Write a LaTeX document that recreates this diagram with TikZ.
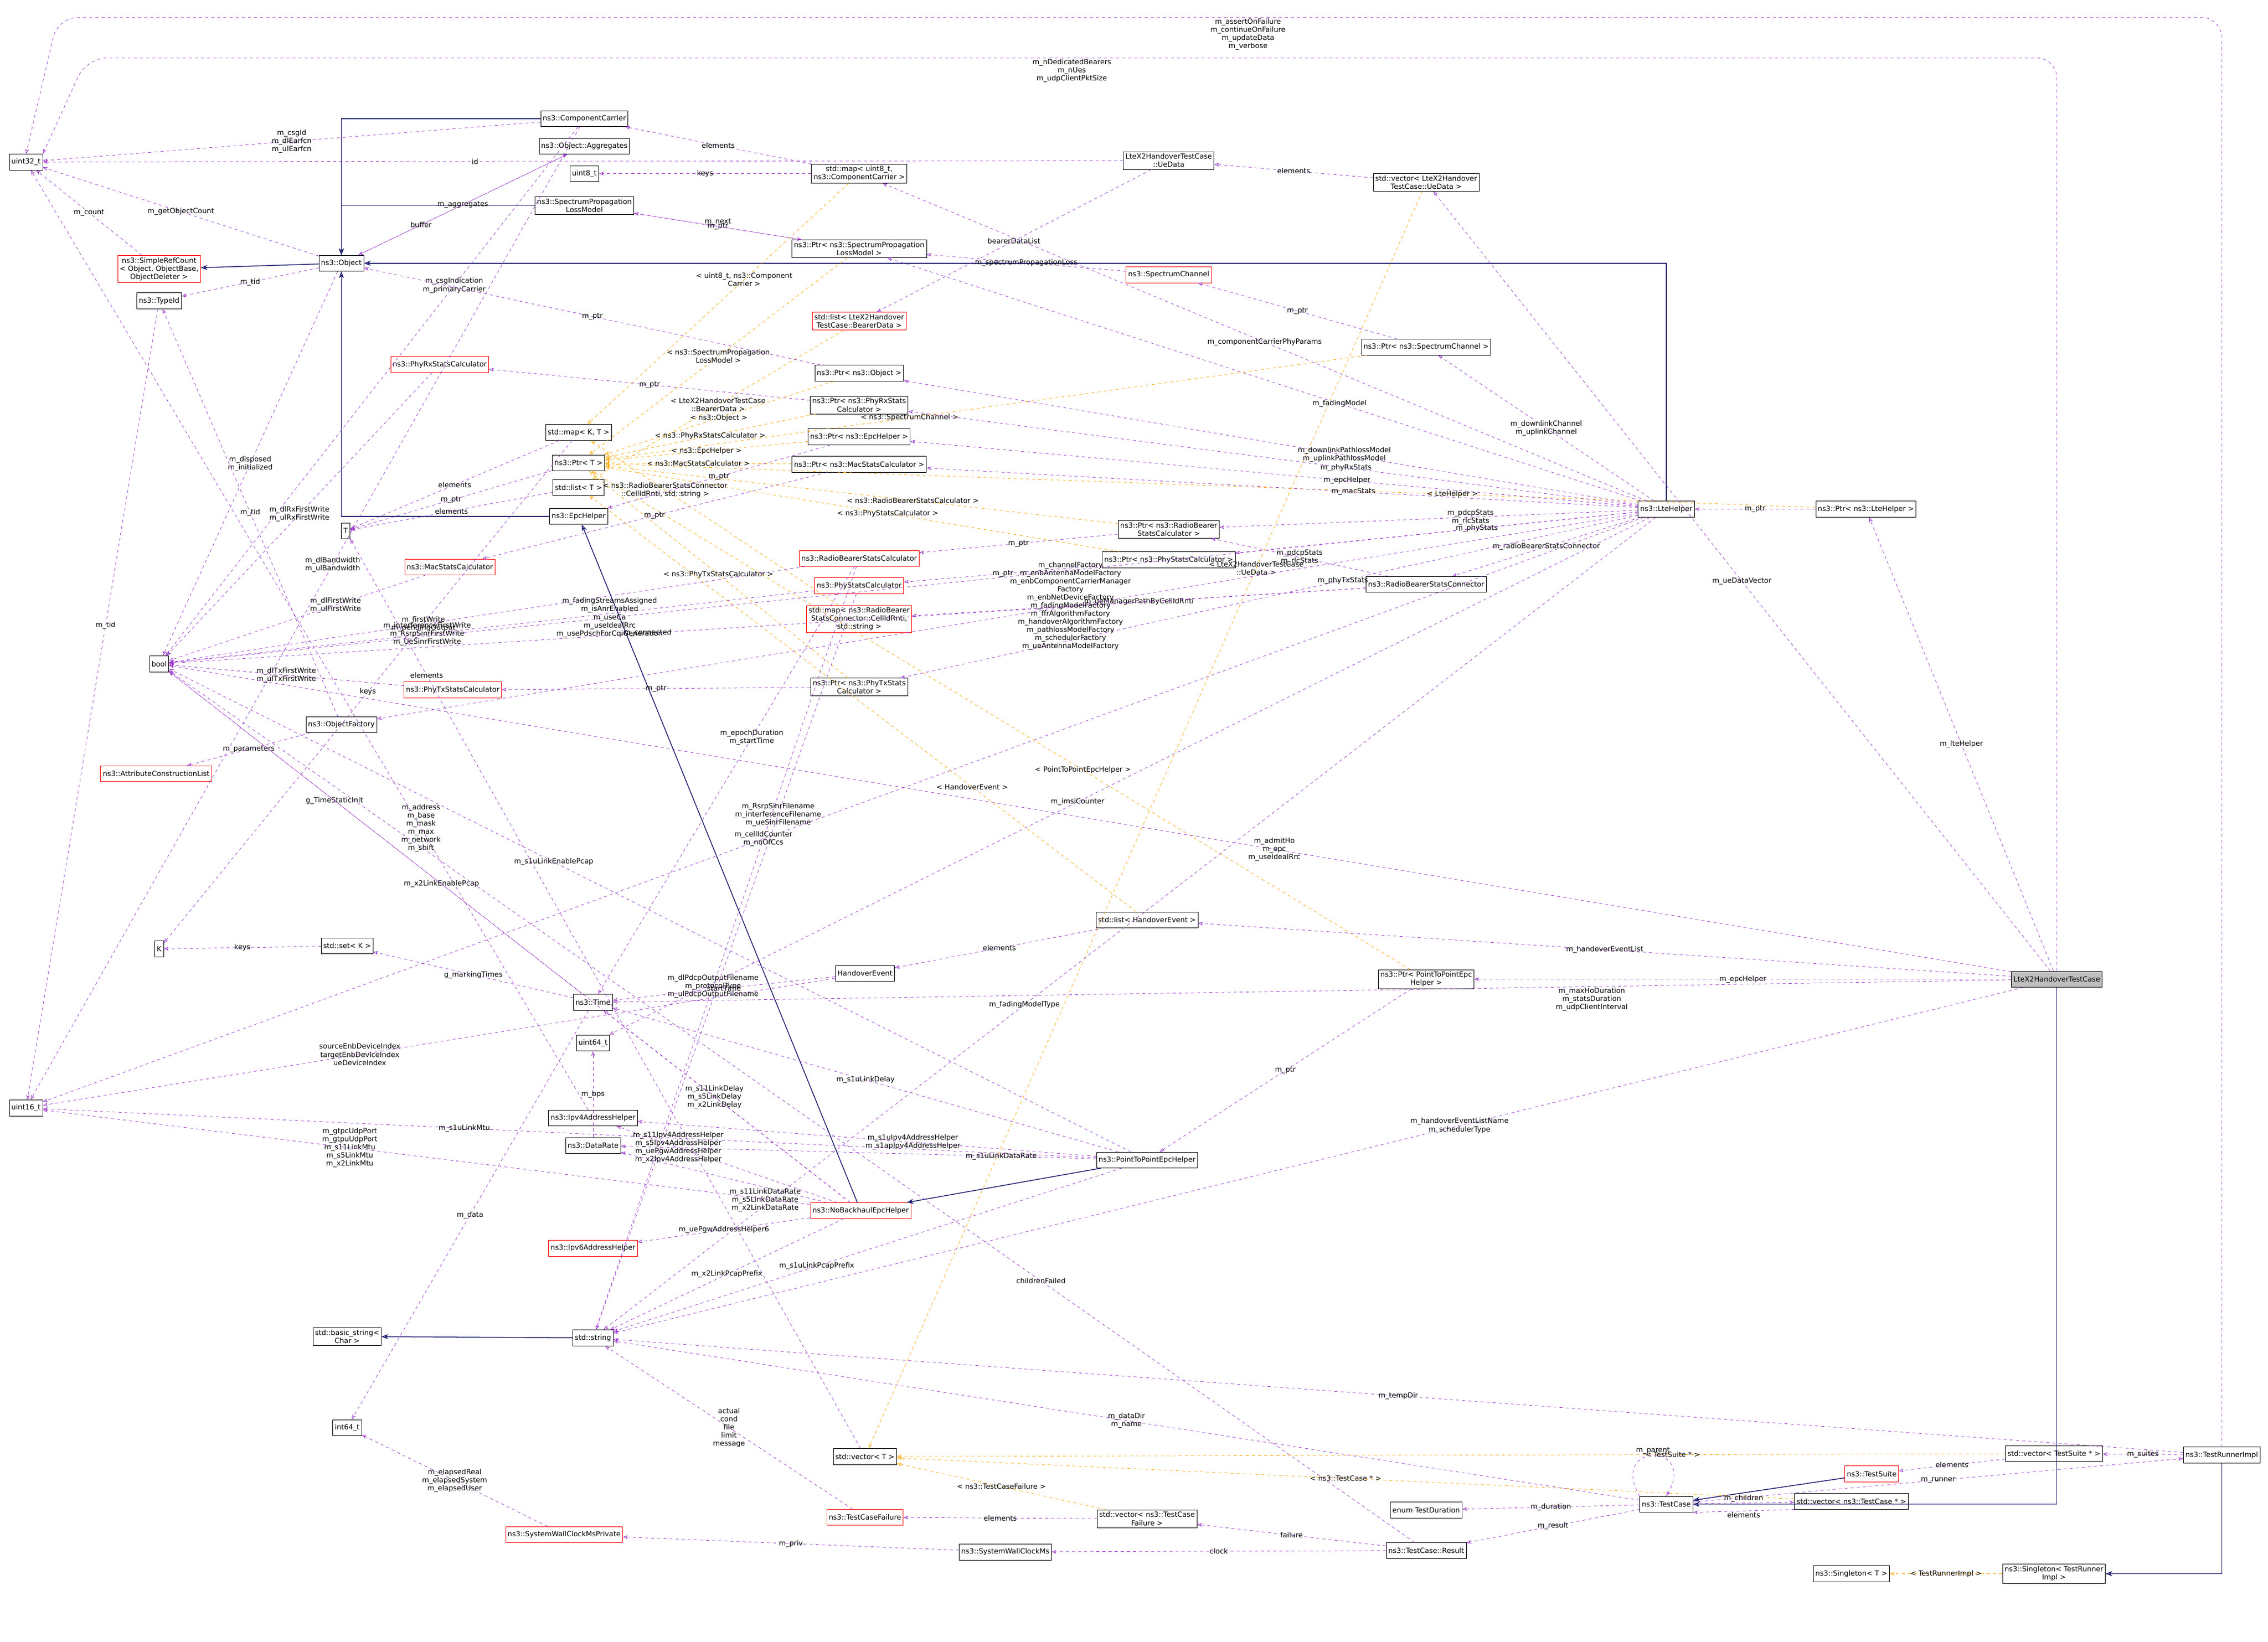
\documentclass[tikz,border=0pt]{standalone}
\usepackage{fontspec}
\setmainfont{DejaVu Sans}
\usetikzlibrary{arrows.meta, positioning}
\definecolor{usecol}{HTML}{9A32CD}
\definecolor{inhcol}{HTML}{191970}
\definecolor{tplcol}{HTML}{FFA500}
\newcommand{\boxfont}{\fontsize{7}{8}\selectfont}

\begin{document}
\begin{tikzpicture}[x=0.05cm,y=-0.05cm,
    box/.style={draw, fill=white, font=\boxfont, align=center, inner sep=2pt, minimum height=0.55cm},
    redbox/.style={box, draw=red},
    rootbox/.style={box, fill=black!25},
    use/.style={draw=usecol, dashed, -{Stealth[open]}},
    inh/.style={draw=inhcol, thick, -{Stealth[open]}},
    tpl/.style={draw=tplcol, dashed, -{Stealth[open]}},
    lbl/.style={font=\boxfont, align=center, fill=none, inner sep=1pt}]
    \useasboundingbox (0,0) rectangle (1568,1135);

    % left column
    \node[box] (u32) at (18,112) {uint32\_t};
    \node[redbox] (refcnt) at (110,186) {ns3::SimpleRefCount\\< Object, ObjectBase,\\ObjectDeleter >};
    \node[box] (tid) at (110,208) {ns3::TypeId};
    \node[box] (bool) at (110,459) {bool};
    \node[redbox] (attrl) at (108,535) {ns3::AttributeConstructionList};
    \node[box] (kk) at (110,656) {K};
    \node[box] (u16) at (18,766) {uint16\_t};

    \node[box] (obj) at (236,182) {ns3::Object};
    \node[redbox] (phyrx) at (304,252) {ns3::PhyRxStatsCalculator};
    \node[box] (tt) at (239,367) {T};
    \node[redbox] (macst) at (311,392) {ns3::MacStatsCalculator};
    \node[redbox] (phytx) at (313,477) {ns3::PhyTxStatsCalculator};
    \node[box] (objfac) at (236,501) {ns3::ObjectFactory};
    \node[box] (setk) at (240,654) {std::set< K >};
    \node[box] (bstr) at (240,924) {std::basic\_string<\\Char >};
    \node[box] (i64) at (240,987) {int64\_t};

    \node[box] (cc) at (404,82) {ns3::ComponentCarrier};
    \node[box] (aggr) at (404,101) {ns3::Object::Aggregates};
    \node[box] (u8) at (404,120) {uint8\_t};
    \node[box] (splm) at (404,142) {ns3::SpectrumPropagation\\LossModel};
    \node[box] (mapkt) at (400,299) {std::map< K, T >};
    \node[box] (ptrt) at (400,320) {ns3::Ptr< T >};
    \node[box] (listt) at (400,337) {std::list< T >};
    \node[box] (epch) at (400,357) {ns3::EpcHelper};
    \node[box] (time) at (410,693) {ns3::Time};
    \node[box] (u64) at (410,721) {uint64\_t};
    \node[box] (ipv4) at (410,773) {ns3::Ipv4AddressHelper};
    \node[box] (drate) at (410,792) {ns3::DataRate};
    \node[redbox] (ipv6) at (410,863) {ns3::Ipv6AddressHelper};
    \node[box] (str) at (410,925) {std::string};
    \node[redbox] (swcp) at (390,1061) {ns3::SystemWallClockMsPrivate};

    % middle columns
    \node[box] (mapcc) at (594,120) {std::map< uint8\_t,\\ns3::ComponentCarrier >};
    \node[box] (ptrsplm) at (594,172) {ns3::Ptr< ns3::SpectrumPropagation\\LossModel >};
    \node[redbox] (listbd) at (594,222) {std::list< LteX2Handover\\TestCase::BearerData >};
    \node[box] (ptrobj) at (594,258) {ns3::Ptr< ns3::Object >};
    \node[box] (ptrphyrx) at (594,280) {ns3::Ptr< ns3::PhyRxStats\\Calculator >};
    \node[box] (ptrepc) at (594,302) {ns3::Ptr< ns3::EpcHelper >};
    \node[box] (ptrmac) at (594,321) {ns3::Ptr< ns3::MacStatsCalculator >};
    \node[redbox] (rbsc) at (594,386) {ns3::RadioBearerStatsCalculator};
    \node[redbox] (physt) at (594,405) {ns3::PhyStatsCalculator};
    \node[redbox] (mapcr) at (594,428) {std::map< ns3::RadioBearer\\StatsConnector::CellIdRnti,\\std::string >};
    \node[box] (ptrphytx) at (594,475) {ns3::Ptr< ns3::PhyTxStats\\Calculator >};
    \node[box] (hoev) at (598,673) {HandoverEvent};
    \node[redbox] (nobh) at (595,837) {ns3::NoBackhaulEpcHelper};
    \node[box] (vect) at (598,1007) {std::vector< T >};
    \node[redbox] (tcf) at (598,1049) {ns3::TestCaseFailure};
    \node[box] (swc) at (695,1073) {ns3::SystemWallClockMs};

    \node[box] (uedata) at (808,111) {LteX2HandoverTestCase\\::UeData};
    \node[redbox] (spch) at (808,190) {ns3::SpectrumChannel};
    \node[box] (ptrrbsc) at (808,366) {ns3::Ptr< ns3::RadioBearer\\StatsCalculator >};
    \node[box] (ptrphyst) at (808,387) {ns3::Ptr< ns3::PhyStatsCalculator >};
    \node[box] (listho) at (793,636) {std::list< HandoverEvent >};
    \node[box] (p2p) at (793,802) {ns3::PointToPointEpcHelper};
    \node[box] (vectcf) at (793,1050) {std::vector< ns3::TestCase\\Failure >};

    \node[box] (vecue) at (986,126) {std::vector< LteX2Handover\\TestCase::UeData >};
    \node[box] (ptrspch) at (986,240) {ns3::Ptr< ns3::SpectrumChannel >};
    \node[box] (rbscon) at (986,404) {ns3::RadioBearerStatsConnector};
    \node[box] (ptrp2p) at (986,677) {ns3::Ptr< PointToPointEpc\\Helper >};
    \node[box] (tdur) at (986,1044) {enum TestDuration};
    \node[box] (result) at (986,1072) {ns3::TestCase::Result};

    % right columns
    \node[box] (lteh) at (1152,352) {ns3::LteHelper};
    \node[box] (tcase) at (1152,1040) {ns3::TestCase};
    \node[box] (ptrlte) at (1290,352) {ns3::Ptr< ns3::LteHelper >};
    \node[box] (vectc) at (1280,1038) {std::vector< ns3::TestCase * >};
    \node[redbox] (tsuite) at (1294,1019) {ns3::TestSuite};
    \node[box] (singt) at (1280,1088) {ns3::Singleton< T >};
    \node[rootbox] (root) at (1422,677) {LteX2HandoverTestCase};
    \node[box] (vects) at (1420,1005) {std::vector< TestSuite * >};
    \node[box] (singtr) at (1420,1088) {ns3::Singleton< TestRunner\\Impl >};
    \node[box] (runner) at (1536,1006) {ns3::TestRunnerImpl};

    % inheritance
    \draw[inh] (obj) -- (refcnt);
    \draw[inh] (cc) -| (obj);
    \draw[inh] (splm) -| (obj);
    \draw[inh] (epch) -| (obj);
    \draw[inh] (lteh) |- (obj);
    \draw[inh] (nobh) -- (epch);
    \draw[inh] (p2p) -- (nobh);
    \draw[inh] (str) -- (bstr);
    \draw[inh] (root) |- (tcase);
    \draw[inh] (tsuite) -- (tcase);
    \draw[inh] (runner) |- (singtr);

    % templates
    \draw[tpl] (ptrsplm) -- node[lbl,pos=0.5]{< ns3::SpectrumPropagation\\LossModel >} (ptrt);
    \draw[tpl] (ptrspch) -- node[lbl,pos=0.6]{< ns3::SpectrumChannel >} (ptrt);
    \draw[tpl] (ptrobj) -- node[lbl]{< ns3::Object >} (ptrt);
    \draw[tpl] (ptrphyrx) -- node[lbl]{< ns3::PhyRxStatsCalculator >} (ptrt);
    \draw[tpl] (ptrepc) -- node[lbl]{< ns3::EpcHelper >} (ptrt);
    \draw[tpl] (ptrmac) -- node[lbl]{< ns3::MacStatsCalculator >} (ptrt);
    \draw[tpl] (ptrrbsc) -- node[lbl,pos=0.4]{< ns3::RadioBearerStatsCalculator >} (ptrt);
    \draw[tpl] (ptrphyst) -- node[lbl,pos=0.45]{< ns3::PhyStatsCalculator >} (ptrt);
    \draw[tpl] (ptrphytx) -- node[lbl]{< ns3::PhyTxStatsCalculator >} (ptrt);
    \draw[tpl] (ptrlte) -- node[lbl,pos=0.3]{< LteHelper >} (ptrt);
    \draw[tpl] (ptrp2p) -- node[lbl,pos=0.4]{< PointToPointEpcHelper >} (ptrt);
    \draw[tpl] (mapcc) -- node[lbl,pos=0.4]{< uint8\_t, ns3::Component\\Carrier >} (mapkt);
    \draw[tpl] (mapcr) -- node[lbl,pos=0.7]{< ns3::RadioBearerStatsConnector\\::CellIdRnti, std::string >} (mapkt);
    \draw[tpl] (listbd) -- node[lbl]{< LteX2HandoverTestCase\\::BearerData >} (listt);
    \draw[tpl] (listho) -- node[lbl,pos=0.3]{< HandoverEvent >} (listt);
    \draw[tpl] (vecue) -- node[lbl,pos=0.3]{< LteX2HandoverTestCase\\::UeData >} (vect);
    \draw[tpl] (vects) -- node[lbl,pos=0.3]{< TestSuite * >} (vect);
    \draw[tpl] (vectc) -- node[lbl,pos=0.5]{< ns3::TestCase * >} (vect);
    \draw[tpl] (vectcf) -- node[lbl]{< ns3::TestCaseFailure >} (vect);
    \draw[tpl] (singtr) -- node[lbl]{< TestRunnerImpl >} (singt);

    % usage: base classes
    \draw[use] (obj) -- node[lbl]{m\_getObjectCount} (u32);
    \draw[use] (obj) -- node[lbl]{m\_tid} (tid);
    \draw[use] (obj) -- node[lbl]{m\_disposed\\m\_initialized} (bool);
    \draw[use] (obj) -- node[lbl]{m\_aggregates} (aggr);
    \draw[use] (aggr) -- node[lbl,pos=0.7]{buffer} (obj);
    \draw[use] (refcnt) -- node[lbl]{m\_count} (u32);
    \draw[use] (tid) -- node[lbl,pos=0.4]{m\_tid} (u16);
    \draw[use] (cc) -- node[lbl]{m\_csgId\\m\_dlEarfcn\\m\_ulEarfcn} (u32);
    \draw[use] (cc) -- node[lbl,pos=0.3]{m\_csgIndication\\m\_primaryCarrier} (bool);
    \draw[use] (cc) -- node[lbl,pos=0.45]{m\_dlBandwidth\\m\_ulBandwidth} (u16);
    \draw[use] (mapcc) -- node[lbl]{elements} (cc);
    \draw[use] (mapcc) -- node[lbl]{keys} (u8);
    \draw[use] (ptrsplm) -- node[lbl]{m\_ptr} (splm);
    \draw[use] (splm) -- node[lbl,above]{m\_next} (ptrsplm);
    \draw[use] (spch) -- node[lbl]{m\_spectrumPropagationLoss} (ptrsplm);
    \draw[use] (uedata) -- node[lbl,pos=0.6]{id} (u32);
    \draw[use] (uedata) -- node[lbl]{bearerDataList} (listbd);
    \draw[use] (vecue) -- node[lbl]{elements} (uedata);
    \draw[use] (phyrx) -- node[lbl]{m\_dlRxFirstWrite\\m\_ulRxFirstWrite} (bool);
    \draw[use] (macst) -- node[lbl,pos=0.35]{m\_dlFirstWrite\\m\_ulFirstWrite} (bool);
    \draw[use] (phytx) -- node[lbl]{m\_dlTxFirstWrite\\m\_ulTxFirstWrite} (bool);
    \draw[use] (objfac) -- node[lbl]{m\_tid} (tid);
    \draw[use] (objfac) -- node[lbl]{m\_parameters} (attrl);
    \draw[use] (mapkt) -- node[lbl]{keys} (kk);
    \draw[use] (mapkt) -- node[lbl]{elements} (tt);
    \draw[use] (ptrt) -- node[lbl]{m\_ptr} (tt);
    \draw[use] (listt) -- node[lbl]{elements} (tt);
    \draw[use] (setk) -- node[lbl]{keys} (kk);
    \draw[use] (vect) -- node[lbl,pos=0.85]{elements} (tt);

    % usage: pointers
    \draw[use] (ptrobj) -- node[lbl]{m\_ptr} (obj);
    \draw[use] (ptrphyrx) -- node[lbl]{m\_ptr} (phyrx);
    \draw[use] (ptrepc) -- node[lbl]{m\_ptr} (epch);
    \draw[use] (ptrmac) -- node[lbl]{m\_ptr} (macst);
    \draw[use] (ptrrbsc) -- node[lbl]{m\_ptr} (rbsc);
    \draw[use] (ptrphyst) -- node[lbl]{m\_ptr} (physt);
    \draw[use] (ptrphytx) -- node[lbl]{m\_ptr} (phytx);
    \draw[use] (ptrspch) -- node[lbl]{m\_ptr} (spch);
    \draw[use] (ptrlte) -- node[lbl]{m\_ptr} (lteh);
    \draw[use] (ptrp2p) -- node[lbl]{m\_ptr} (p2p);

    % usage: stats
    \draw[use] (rbscon) -- node[lbl]{m\_ueManagerPathByCellIdRnti} (mapcr);
    \draw[use] (rbscon) -- node[lbl]{m\_pdcpStats\\m\_rlcStats} (ptrrbsc);
    \draw[use] (rbscon) -- node[lbl,pos=0.6]{m\_connected} (bool);
    \draw[use] (rbsc) -- node[lbl,pos=0.6]{m\_firstWrite\\m\_pendingOutput} (bool);
    \draw[use] (rbsc) -- node[lbl,pos=0.55]{m\_dlPdcpOutputFilename\\m\_protocolType\\m\_ulPdcpOutputFilename} (str);
    \draw[use] (rbsc) -- node[lbl,pos=0.4]{m\_epochDuration\\m\_startTime} (time);
    \draw[use] (physt) -- node[lbl,pos=0.6]{m\_interferenceFirstWrite\\m\_RsrpSinrFirstWrite\\m\_UeSinrFirstWrite} (bool);
    \draw[use] (physt) -- node[lbl,pos=0.3]{m\_RsrpSinrFilename\\m\_interferenceFilename\\m\_ueSinrFilename} (str);

    % usage: LteHelper
    \draw[use] (lteh) -- node[lbl]{m\_componentCarrierPhyParams} (mapcc);
    \draw[use] (lteh) -- node[lbl,pos=0.4]{m\_fadingModel} (ptrsplm);
    \draw[use] (lteh) -- node[lbl]{m\_downlinkChannel\\m\_uplinkChannel} (ptrspch);
    \draw[use] (lteh) -- node[lbl,pos=0.4]{m\_downlinkPathlossModel\\m\_uplinkPathlossModel} (ptrobj);
    \draw[use] (lteh) -- node[lbl,pos=0.4]{m\_phyRxStats} (ptrphyrx);
    \draw[use] (lteh) -- node[lbl,pos=0.4]{m\_epcHelper} (ptrepc);
    \draw[use] (lteh) -- node[lbl,pos=0.4]{m\_macStats} (ptrmac);
    \draw[use] (lteh) -- node[lbl,pos=0.4]{m\_pdcpStats\\m\_rlcStats} (ptrrbsc);
    \draw[use] (lteh) -- node[lbl,pos=0.4]{m\_phyStats} (ptrphyst);
    \draw[use] (lteh) -- node[lbl]{m\_radioBearerStatsConnector} (rbscon);
    \draw[use] (lteh) -- node[lbl,pos=0.4]{m\_phyTxStats} (ptrphytx);
    \draw[use] (lteh) -- node[lbl,pos=0.45]{m\_channelFactory\\m\_enbAntennaModelFactory\\m\_enbComponentCarrierManager\\Factory\\m\_enbNetDeviceFactory\\m\_fadingModelFactory\\m\_ffrAlgorithmFactory\\m\_handoverAlgorithmFactory\\m\_pathlossModelFactory\\m\_schedulerFactory\\m\_ueAntennaModelFactory} (objfac);
    \draw[use] (lteh) -- node[lbl,pos=0.7]{m\_fadingStreamsAssigned\\m\_isAnrEnabled\\m\_useCa\\m\_useIdealRrc\\m\_usePdschForCqiGeneration} (bool);
    \draw[use] (lteh) -- node[lbl,pos=0.55]{m\_cellIdCounter\\m\_noOfCcs} (u16);
    \draw[use] (lteh) -- node[lbl,pos=0.55]{m\_imsiCounter} (u64);
    \draw[use] (lteh) -- node[lbl,pos=0.6]{m\_fadingModelType} (str);

    % usage: handover and time
    \draw[use] (listho) -- node[lbl]{elements} (hoev);
    \draw[use] (hoev) -- node[lbl]{startTime} (time);
    \draw[use] (hoev) -- node[lbl,pos=0.6]{sourceEnbDeviceIndex\\targetEnbDeviceIndex\\ueDeviceIndex} (u16);
    \draw[use] (time) -- node[lbl]{g\_markingTimes} (setk);
    \draw[use] (time) -- node[lbl]{m\_data} (i64);
    \draw[use] (time) -- node[lbl,pos=0.6]{g\_TimeStaticInit} (bool);
    \draw[use] (ipv4) -- node[lbl,pos=0.3]{m\_address\\m\_base\\m\_mask\\m\_max\\m\_network\\m\_shift} (u32);
    \draw[use] (drate) -- node[lbl]{m\_bps} (u64);

    % usage: epc helpers
    \draw[use] (p2p) -- node[lbl]{m\_s1uLinkDelay} (time);
    \draw[use] (p2p) -- node[lbl,pos=0.4]{m\_s1uIpv4AddressHelper\\m\_s1apIpv4AddressHelper} (ipv4);
    \draw[use] (p2p) -- node[lbl,pos=0.2]{m\_s1uLinkDataRate} (drate);
    \draw[use] (p2p) -- node[lbl,pos=0.6]{m\_s1uLinkMtu} (u16);
    \draw[use] (p2p) -- node[lbl,pos=0.6]{m\_s1uLinkEnablePcap} (bool);
    \draw[use] (p2p) -- node[lbl,pos=0.6]{m\_s1uLinkPcapPrefix} (str);
    \draw[use] (nobh) -- node[lbl,pos=0.55]{m\_s11LinkDelay\\m\_s5LinkDelay\\m\_x2LinkDelay} (time);
    \draw[use] (nobh) -- node[lbl,pos=0.72]{m\_s11Ipv4AddressHelper\\m\_s5Ipv4AddressHelper\\m\_uePgwAddressHelper\\m\_x2Ipv4AddressHelper} (ipv4);
    \draw[use] (nobh) -- node[lbl,pos=0.3,below]{m\_s11LinkDataRate\\m\_s5LinkDataRate\\m\_x2LinkDataRate} (drate);
    \draw[use] (nobh) -- node[lbl]{m\_uePgwAddressHelper6} (ipv6);
    \draw[use] (nobh) -- node[lbl,pos=0.6]{m\_gtpcUdpPort\\m\_gtpuUdpPort\\m\_s11LinkMtu\\m\_s5LinkMtu\\m\_x2LinkMtu} (u16);
    \draw[use] (nobh) -- node[lbl,pos=0.6]{m\_x2LinkEnablePcap} (bool);
    \draw[use] (nobh) -- node[lbl]{m\_x2LinkPcapPrefix} (str);

    % usage: test framework
    \draw[use] (tcf) -- node[lbl]{actual\\cond\\file\\limit\\message} (str);
    \draw[use] (vectcf) -- node[lbl]{elements} (tcf);
    \draw[use] (result) -- node[lbl]{failure} (vectcf);
    \draw[use] (result) -- node[lbl]{clock} (swc);
    \draw[use] (result) -- node[lbl,pos=0.3]{childrenFailed} (bool);
    \draw[use] (swc) -- node[lbl]{m\_priv} (swcp);
    \draw[use] (swcp) -- node[lbl]{m\_elapsedReal\\m\_elapsedSystem\\m\_elapsedUser} (i64);
    \draw[use] (tcase.north west) to[out=120,in=60,looseness=6] node[lbl,above]{m\_parent} (tcase.north);
    \draw[use] (tcase) -- node[lbl]{m\_result} (result);
    \draw[use] (tcase) -- node[lbl]{m\_duration} (tdur);
    \draw[use] (tcase) -- node[lbl,above]{m\_children} (vectc);
    \draw[use] (vectc.south west) -- node[lbl,below]{elements} (tcase.south east);
    \draw[use] (tcase) -- node[lbl]{m\_dataDir\\m\_name} (str);
    \draw[use] (tcase) -- node[lbl]{m\_runner} (runner);
    \draw[use] (runner) -- node[lbl]{m\_suites} (vects);
    \draw[use] (vects) -- node[lbl]{elements} (tsuite);
    \draw[use] (runner) -- node[lbl,pos=0.5]{m\_tempDir} (str);
    \draw[use, rounded corners=20] (runner.north) -- (1536,12) -- node[lbl,pos=0.45,below]{m\_assertOnFailure\\m\_continueOnFailure\\m\_updateData\\m\_verbose} (40,12) -- (u32.north);

    % usage: root
    \draw[use, rounded corners=20] (root.north) -- (1422,40) -- node[lbl,pos=0.5,below]{m\_nDedicatedBearers\\m\_nUes\\m\_udpClientPktSize} (60,40) -- (u32.north east);
    \draw[use] (root) -- node[lbl]{m\_ueDataVector} (vecue);
    \draw[use] (root) -- node[lbl]{m\_lteHelper} (ptrlte);
    \draw[use] (root) -- node[lbl]{m\_handoverEventList} (listho);
    \draw[use] (root) -- node[lbl]{m\_epcHelper} (ptrp2p);
    \draw[use] (root) -- node[lbl,pos=0.3,below]{m\_maxHoDuration\\m\_statsDuration\\m\_udpClientInterval} (time);
    \draw[use] (root) -- node[lbl,pos=0.4]{m\_handoverEventListName\\m\_schedulerType} (str);
    \draw[use] (root) -- node[lbl,pos=0.4]{m\_admitHo\\m\_epc\\m\_useIdealRrc} (bool);
\end{tikzpicture}
\end{document}
